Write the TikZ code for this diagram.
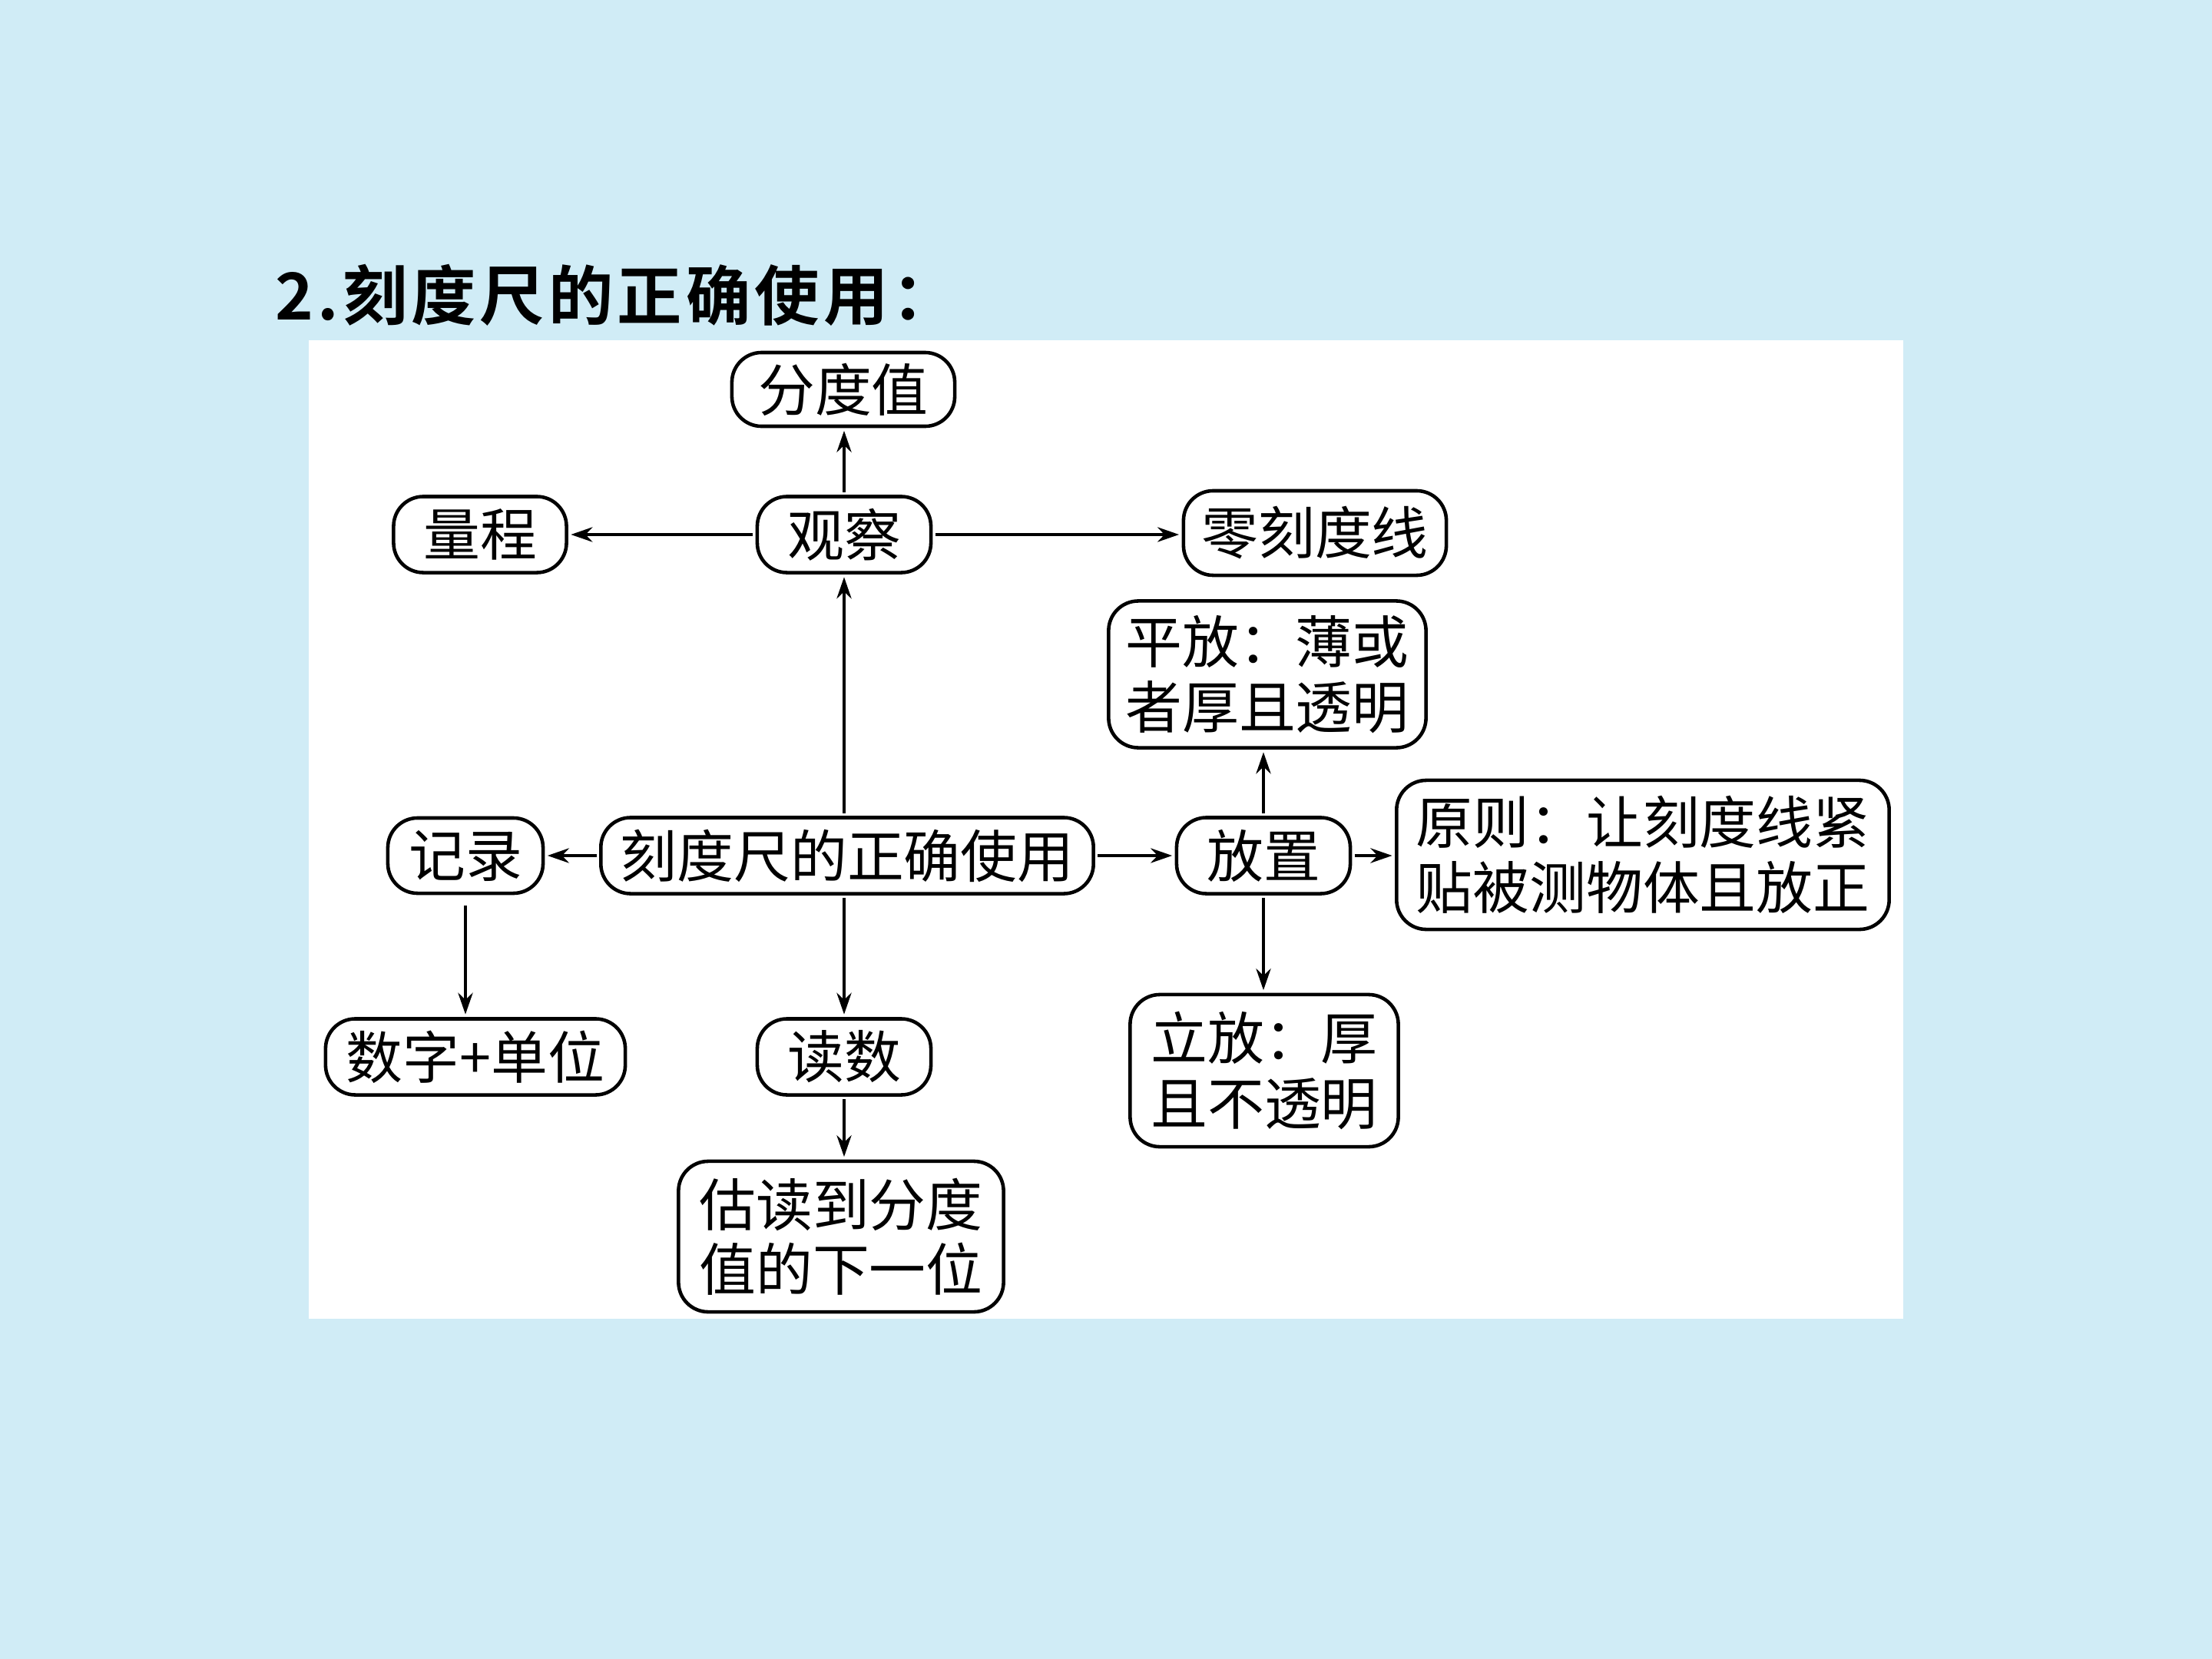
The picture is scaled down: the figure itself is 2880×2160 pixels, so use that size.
\documentclass[tikz,border=0pt]{standalone}
\usepackage{fontspec}
\newfontfamily\cjk{Noto Sans CJK SC}
\newfontfamily\cjktitle[LetterSpace=6]{Noto Sans CJK SC Bold}
\usetikzlibrary{arrows.meta}
\definecolor{bgblue}{RGB}{208,236,246}
\tikzset{
  box/.style={draw=black, line width=1.3pt, rounded corners=11pt, fill=white,
    inner sep=0pt, align=center, font=\cjk\fontsize{21}{24}\selectfont},
  arr/.style={-{Stealth[length=8pt,width=5.5pt]}, line width=0.9pt, shorten >=1pt, shorten <=1pt},
}
\begin{document}
\begin{tikzpicture}[x=0.01cm,y=-0.01cm]
\useasboundingbox (0,0) rectangle (2880,2160);
\fill[bgblue] (0,0) rectangle (2880,2160);
\fill[white] (402,443) rectangle (2478,1717);
\node[anchor=west, inner sep=0pt, font=\cjktitle\fontsize{24}{28}\selectfont] (title) at (358,384) {2.刻度尺的正确使用：};

\node[box, minimum width=2.90cm, minimum height=0.96cm] (fdz) at (1098,507) {分度值};
\node[box, minimum width=2.26cm, minimum height=0.99cm] (gc) at (1099,696) {观察};
\node[box, minimum width=2.25cm, minimum height=0.99cm] (lc) at (625,696) {量程};
\node[box, minimum width=3.42cm, minimum height=1.10cm] (lkdx) at (1712,694) {零刻度线};
\node[box, minimum width=4.13cm, minimum height=1.91cm] (pf) at (1650,878) {平放：薄或\\者厚且透明};
\node[box, minimum width=2.02cm, minimum height=0.98cm] (jl) at (606,1114) {记录};
\node[box, minimum width=6.41cm, minimum height=0.99cm] (main) at (1103,1114) {刻度尺的正确使用};
\node[box, minimum width=2.26cm, minimum height=0.99cm] (fz) at (1645,1114) {放置};
\node[box, minimum width=6.41cm, minimum height=1.94cm] (yz) at (2139,1113) {原则：让刻度线紧\\贴被测物体且放正};
\node[box, minimum width=3.90cm, minimum height=0.99cm] (szdw) at (619,1376) {数字+单位};
\node[box, minimum width=2.26cm, minimum height=0.99cm] (ds) at (1099,1376) {读数};
\node[box, minimum width=3.49cm, minimum height=1.98cm] (lf) at (1646,1394) {立放：厚\\且不透明};
\node[box, minimum width=4.23cm, minimum height=1.96cm] (gd) at (1095,1610) {估读到分度\\值的下一位};

\draw[arr] (gc.north) -- (gc.north |- fdz.south);
\draw[arr] (gc.west) -- (gc.west -| lc.east);
\draw[arr] (gc.east) -- (gc.east -| lkdx.west);
\draw[arr] (gc.south |- main.north) -- (gc.south);
\draw[arr] (main.west) -- (main.west -| jl.east);
\draw[arr] (main.east) -- (main.east -| fz.west);
\draw[arr] (fz.north) -- (fz.north |- pf.south);
\draw[arr] (fz.east) -- (fz.east -| yz.west);
\draw[arr] (fz.south) -- (fz.south |- lf.north);
\draw[arr, shorten <=4pt] (jl.south) -- (jl.south |- szdw.north);
\draw[arr] (ds.north |- main.south) -- (ds.north);
\draw[arr] (ds.south) -- (ds.south |- gd.north);
\end{tikzpicture}
\end{document}
